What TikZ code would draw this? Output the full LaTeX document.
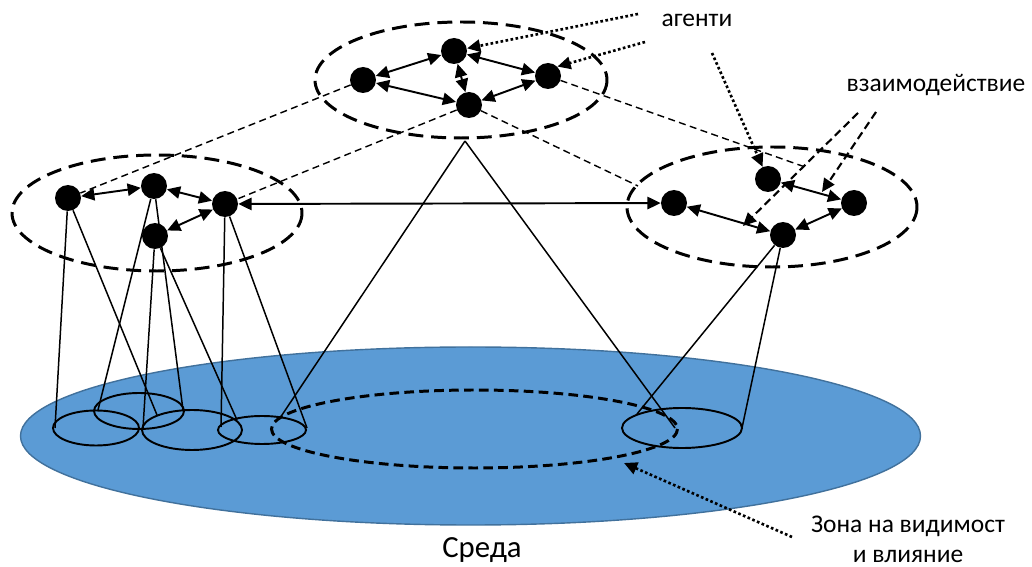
\documentclass[tikz,border=0pt]{standalone}
\usepackage{fontspec}
\setmainfont{Carlito}
\usetikzlibrary{arrows.meta}
\tikzset{>={Triangle[length=7.5pt,width=7pt]}}
\definecolor{sea}{RGB}{91,155,213}
\definecolor{seaedge}{RGB}{65,113,156}

\begin{document}
\begin{tikzpicture}[x=0.02cm,y=-0.02cm,
        agent/.style={circle,fill=black,minimum size=5.2mm,inner sep=0pt},
        group/.style={line width=1.7pt,dash pattern=on 8.5pt off 4.5pt},
        zone/.style={line width=1.1pt},
        link/.style={<->,line width=1.1pt},
        ray/.style={line width=0.85pt},
        tie/.style={line width=0.8pt,dash pattern=on 4pt off 2.5pt},
        pointer/.style={->,line width=1.5pt,dash pattern=on 1.5pt off 1.4pt},
        hint/.style={->,line width=1.2pt,dash pattern=on 4.5pt off 2.5pt},
        lbl/.style={anchor=base,font=\fontsize{14.5}{17}\selectfont}]
    \useasboundingbox (0,0) rectangle (1032,567);
    % environment
    \draw[fill=sea,draw=seaedge,line width=0.8pt] (470.5,436) ellipse [x radius=450,y radius=89];
    \node[anchor=base,font=\fontsize{17.5}{20}\selectfont] (env) at (482,558) {Среда};
    % zones of visibility
    \draw[zone] (96,428) ellipse [x radius=43,y radius=17.5]
                (139,411) ellipse [x radius=45,y radius=18]
                (192,430) ellipse [x radius=50,y radius=20]
                (262,430) ellipse [x radius=44,y radius=14]
                (682,428) ellipse [x radius=60,y radius=20];
    \draw[line width=1.7pt,dash pattern=on 5.5pt off 3pt] (474.5,429) ellipse [x radius=203,y radius=39];
    % groups
    \draw[group] (461,80) ellipse [x radius=146,y radius=58];
    \draw[group] (157,213) ellipse [x radius=145,y radius=58];
    \draw[group] (772,207) ellipse [x radius=145,y radius=60];
    % agents
    \node[agent] (top1) at (363,80) {};
    \node[agent] (top2) at (454,51) {};
    \node[agent] (top3) at (548,76) {};
    \node[agent] (top4) at (469,105) {};
    \node[agent] (left1) at (68,198) {};
    \node[agent] (left2) at (154,186) {};
    \node[agent] (left3) at (225,204) {};
    \node[agent] (left4) at (155,236) {};
    \node[agent] (right1) at (674,203) {};
    \node[agent] (right2) at (768,179) {};
    \node[agent] (right3) at (854,203) {};
    \node[agent] (right4) at (783,235) {};
    % cones down to the environment
    \coordinate (apex) at (465,141);
    \coordinate (l1a) at (55,428);  \coordinate (l1b) at (157,415);
    \coordinate (l2a) at (98,410);  \coordinate (l2b) at (183,410);
    \coordinate (l4a) at (143,428); \coordinate (l4b) at (237,420);
    \coordinate (l3a) at (221,427); \coordinate (l3b) at (307,428);
    \coordinate (ta) at (280,418);  \coordinate (tb) at (675,428);
    \coordinate (r4a) at (637,414); \coordinate (r4b) at (742,428);
    \foreach \n/\p/\q in {left1/l1a/l1b,left2/l2a/l2b,left4/l4a/l4b,left3/l3a/l3b,apex/ta/tb,right4/r4a/r4b}
        \draw[ray] (\n) -- (\p) (\n) -- (\q);
    % links between groups
    \coordinate (tieA) at (638,186);
    \coordinate (tieB) at (805,167);
    \draw[tie] (top1) -- (left1) (top4) -- (left3) (top4) -- (tieA) (top3) -- (tieB);
    % interactions
    \foreach \a/\b in {top1/top2,top1/top4,top2/top3,top2/top4,top3/top4,
                       left1/left2,left2/left3,left4/left3,left3/right1,
                       right1/right4,right2/right3,right4/right3}
        \draw[link] (\a) -- (\b);
    % labels
    \node[lbl] (agents) at (697,27) {агенти};
    \node[lbl] (inter) at (936,92) {взаимодействие};
    \node[lbl] (zone1) at (908,533) {Зона на видимост};
    \node[lbl] (zone2) at (908,563) {и влияние};
    \coordinate (ag1) at (638,14);
    \coordinate (ag2) at (645,42);
    \coordinate (ag3) at (712,53);
    \draw[pointer] (ag1) -- (top2);
    \draw[pointer] (ag2) -- (top3.north east);
    \draw[pointer] (ag3) -- (right2);
    \coordinate (ia1) at (858,113); \coordinate (ia1e) at (743,226);
    \coordinate (ia2) at (876,112); \coordinate (ia2e) at (822,192);
    \draw[hint] (ia1) -- (ia1e);
    \draw[hint] (ia2) -- (ia2e);
    \coordinate (zo) at (792,537); \coordinate (zoe) at (624,463);
    \draw[pointer] (zo) -- (zoe);
\end{tikzpicture}
\end{document}
